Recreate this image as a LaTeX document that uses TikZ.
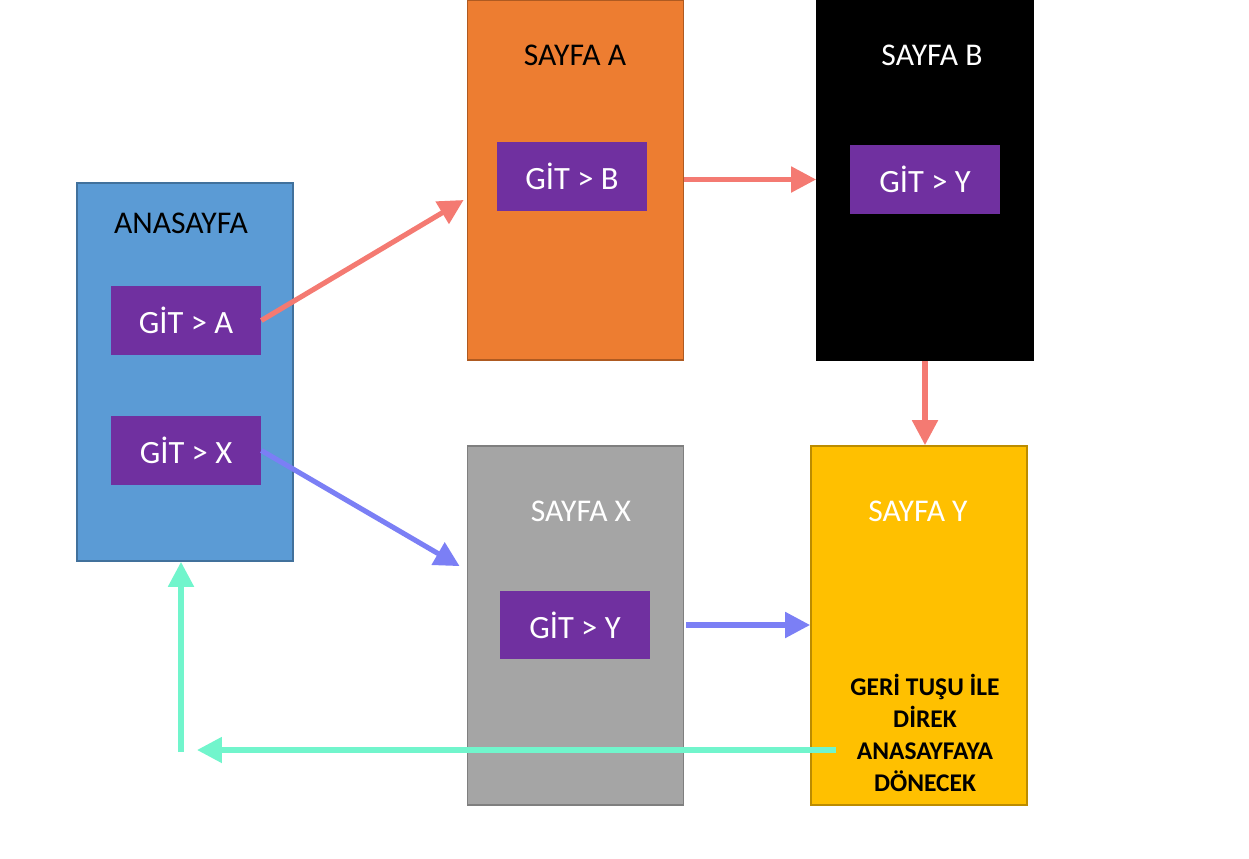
\documentclass[tikz,border=0pt]{standalone}
\usepackage{fontspec}
\setmainfont{Carlito}
\usetikzlibrary{arrows.meta}

\definecolor{anablue}{HTML}{5B9BD5}
\definecolor{anaedge}{HTML}{41719C}
\definecolor{sforange}{HTML}{ED7D31}
\definecolor{sfedge}{HTML}{AE5A21}
\definecolor{sfgray}{HTML}{A5A5A5}
\definecolor{grayedge}{HTML}{7F7F7F}
\definecolor{sfgold}{HTML}{FFC000}
\definecolor{goldedge}{HTML}{BC8C00}
\definecolor{gitpurple}{HTML}{7030A0}
\definecolor{salmon}{HTML}{F47A72}
\definecolor{goblue}{HTML}{7B7FF5}
\definecolor{backteal}{HTML}{71F5CC}

\begin{document}
\begin{tikzpicture}[x=0.02cm,y=-0.02cm,
    page/.style={rectangle, draw, line width=1pt, minimum width=4.32cm, minimum height=7.18cm, inner sep=0pt},
    title/.style={font=\fontsize{18}{22}\selectfont, inner sep=0pt},
    gitbox/.style={rectangle, fill=gitpurple, text=white, minimum width=3cm, minimum height=1.38cm, inner sep=0pt, font=\fontsize{18.5}{22}\selectfont},
    go/.style={line width=2.9pt, -{Triangle[length=0.5cm, width=0.5cm]}}]
    \useasboundingbox (0,0) rectangle (1249,859);
    % pages
    \node [page, fill=anablue, draw=anaedge, minimum height=7.56cm] (anasayfa) at (185,372) {};
    \node [page, fill=sforange, draw=sfedge, minimum height=7.2cm] (sayfaA) at (575.5,180) {};
    \node [page, fill=black, draw=black, minimum height=7.2cm] (sayfaB) at (925,180) {};
    \node [page, fill=sfgray, draw=grayedge] (sayfaX) at (575.5,625.5) {};
    \node [page, fill=sfgold, draw=goldedge] (sayfaY) at (919,625.5) {};
    % titles
    \node [title] (anaT) at (181,223) {ANASAYFA};
    \node [title] (aT) at (575,55) {SAYFA A};
    \node [title, text=white] (bT) at (932,55) {SAYFA B};
    \node [title, text=white] (xT) at (581,511) {SAYFA X};
    \node [title, text=white] (yT) at (918,511) {SAYFA Y};
    \node [align=center, inner sep=0pt, font=\bfseries\fontsize{14.5}{18.1}\selectfont] (geri) at (925,733)
        {GERİ TUŞU İLE\\DİREK\\ANASAYFAYA\\DÖNECEK};
    % buttons
    \node [gitbox] (gitA) at (186,320.5) {GİT > A};
    \node [gitbox] (gitX) at (186,450.5) {GİT > X};
    \node [gitbox] (gitB) at (572,176.5) {GİT > B};
    \node [gitbox] (gitYb) at (925,179.5) {GİT > Y};
    \node [gitbox] (gitYx) at (575,625) {GİT > Y};
    % return path
    \coordinate (back) at (836,750);
    \coordinate (backend) at (197,750);
    \coordinate (corner) at (181,752);
    % arrows
    \draw [go, salmon] (gitA.east) -- ([xshift=-0.06cm,yshift=-0.4cm]sayfaA.west);
    \draw [go, salmon] (sayfaA.east |- gitYb) -- (sayfaB.west |- gitYb);
    \draw [go, salmon] (sayfaB.south) -- (sayfaB.south |- sayfaY.north);
    \draw [go, goblue] (gitX.east) -- ([xshift=-0.14cm,yshift=-2.42cm]sayfaX.north west);
    \draw [go, goblue] ([xshift=0.04cm]sayfaX.east |- gitYx) -- (sayfaY.west |- gitYx);
    \draw [go, backteal] (back) -- (backend);
    \draw [go, backteal] (corner) -- (anasayfa.south -| corner);
\end{tikzpicture}
\end{document}
